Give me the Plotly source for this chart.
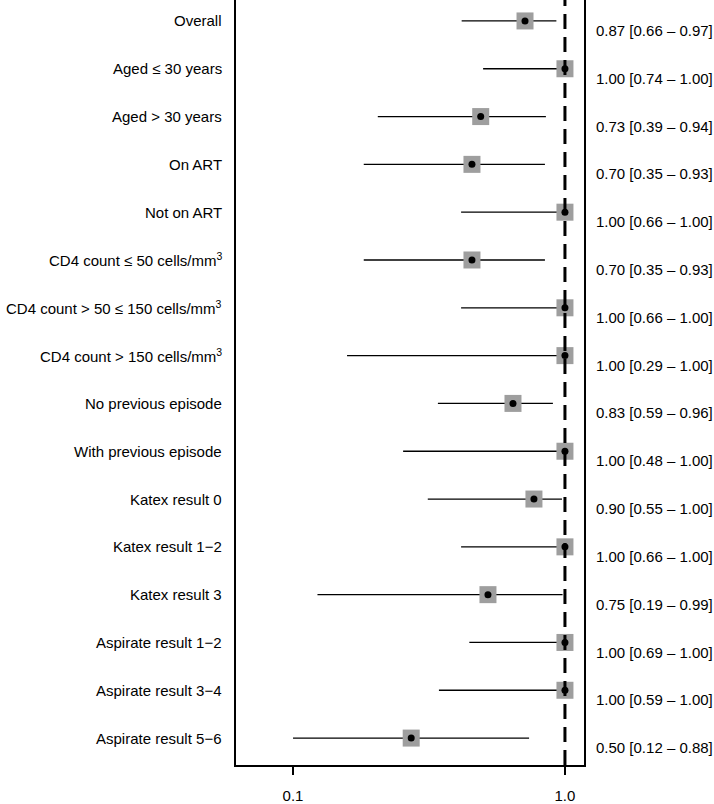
import math
import plotly.graph_objects as go

labels = [
    "Overall",
    "Aged ≤ 30 years",
    "Aged > 30 years",
    "On ART",
    "Not on ART",
    "CD4 count ≤ 50 cells/mm<sup>3</sup>",
    "CD4 count > 50 ≤ 150 cells/mm<sup>3</sup>",
    "CD4 count > 150 cells/mm<sup>3</sup>",
    "No previous episode",
    "With previous episode",
    "Katex result 0",
    "Katex result 1−2",
    "Katex result 3",
    "Aspirate result 1−2",
    "Aspirate result 3−4",
    "Aspirate result 5−6",
]
# plotted estimates and interval ends
est = [0.713, 1.0, 0.49, 0.455, 1.0, 0.455, 1.0, 1.0, 0.644, 1.0, 0.769, 1.0, 0.521, 1.0, 1.0, 0.272]
lower = [0.417, 0.50, 0.205, 0.182, 0.415, 0.182, 0.415, 0.158, 0.341, 0.254, 0.313, 0.415, 0.123, 0.445, 0.344, 0.100]
upper = [0.93, 1.0, 0.851, 0.844, 1.0, 0.844, 1.0, 1.0, 0.903, 1.0, 0.975, 1.0, 0.98, 1.0, 1.0, 0.738]
right_text = [
    "0.87 [0.66 – 0.97]",
    "1.00 [0.74 – 1.00]",
    "0.73 [0.39 – 0.94]",
    "0.70 [0.35 – 0.93]",
    "1.00 [0.66 – 1.00]",
    "0.70 [0.35 – 0.93]",
    "1.00 [0.66 – 1.00]",
    "1.00 [0.29 – 1.00]",
    "0.83 [0.59 – 0.96]",
    "1.00 [0.48 – 1.00]",
    "0.90 [0.55 – 1.00]",
    "1.00 [0.66 – 1.00]",
    "0.75 [0.19 – 0.99]",
    "1.00 [0.69 – 1.00]",
    "1.00 [0.59 – 1.00]",
    "0.50 [0.12 – 0.88]",
]

FONT = "Liberation Sans, Arial, Helvetica, sans-serif"
rows = list(range(len(labels)))

seg_x, seg_y = [], []
for i, (lo, hi) in enumerate(zip(lower, upper)):
    seg_x += [lo, hi, None]
    seg_y += [i, i, None]

fig = go.Figure()
fig.add_trace(go.Scatter(x=seg_x, y=seg_y, mode="lines",
                         line=dict(color="black", width=1.3), hoverinfo="skip"))
fig.add_trace(go.Scatter(x=est, y=rows, mode="markers",
                         marker=dict(symbol="square", size=17, color="#9e9e9e", line=dict(width=0))))
fig.add_trace(go.Scatter(x=est, y=rows, mode="markers",
                         marker=dict(symbol="circle", size=7, color="black", line=dict(width=0))))

fig.add_shape(type="line", xref="x", yref="paper", x0=1.0, x1=1.0, y0=0, y1=1,
              line=dict(color="black", width=3, dash="15px,8px"))

for i, lab in enumerate(labels):
    fig.add_annotation(x=-0.035, xref="paper", y=i, yref="y", text=lab, showarrow=False,
                       xanchor="right", yanchor="middle", font=dict(size=15, color="black"))
for i, t in enumerate(right_text):
    fig.add_annotation(x=1.03, xref="paper", y=i + 0.2, yref="y", text=t, showarrow=False,
                       xanchor="left", yanchor="middle", font=dict(size=15, color="black"))

fig.update_layout(
    width=714, height=804,
    margin=dict(l=236, r=130, t=0, b=37),
    plot_bgcolor="white", paper_bgcolor="white",
    showlegend=False,
    font=dict(family=FONT, size=15, color="black"),
    xaxis=dict(type="log", range=[math.log10(0.0617), math.log10(1.175)],
               tickvals=[0.1, 1.0], ticktext=["0.1", "1.0"],
               showline=True, linecolor="black", linewidth=2,
               ticks="outside", ticklen=8, tickwidth=2, tickcolor="black",
               ticklabelstandoff=8,
               showgrid=False, zeroline=False),
    yaxis=dict(range=[15.563, -0.438], showline=True, mirror=True,
               linecolor="black", linewidth=2, showticklabels=False,
               ticks="", showgrid=False, zeroline=False),
)

fig.write_html("out.html", config={"displayModeBar": False},
               post_script="document.body.style.margin='0';")
